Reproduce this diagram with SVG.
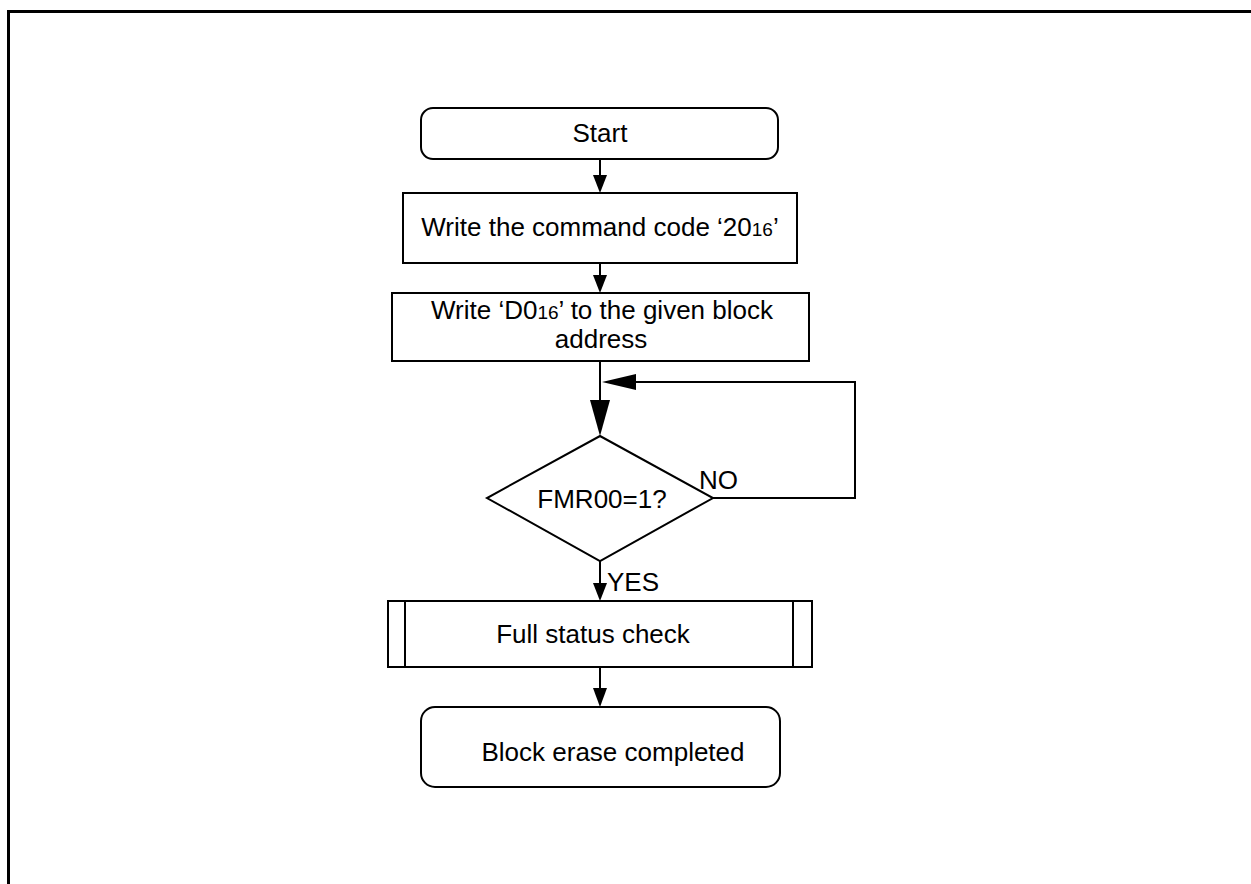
<svg xmlns="http://www.w3.org/2000/svg" width="1251" height="884" viewBox="0 0 1251 884">
<style>
.s{fill:#fff;stroke:#000;stroke-width:2}
.t{font-family:"Liberation Sans",Arial,sans-serif;font-size:26px;fill:#000;text-anchor:middle}
.l{font-family:"Liberation Sans",Arial,sans-serif;font-size:26px;fill:#000}
.c{fill:none;stroke:#000;stroke-width:2}
.sub{font-size:19px}
</style>
<rect x="0" y="0" width="1251" height="884" fill="#fff"/>
<rect x="8.5" y="11.5" width="1260" height="900" fill="none" stroke="#000" stroke-width="3"/>
<g id="start"><rect class="s" x="421" y="108" width="357" height="51" rx="12"/><text class="t" x="600" y="142">Start</text></g>
<g id="cmd"><rect class="s" x="403" y="193" width="394" height="70"/><text class="t" x="600" y="236">Write the command code ‘20<tspan class="sub">16</tspan>’</text></g>
<g id="addr"><rect class="s" x="392" y="293" width="417" height="68"/><text class="t" x="602" y="319">Write ‘D0<tspan class="sub">16</tspan>’ to the given block</text><text class="t" x="601" y="348">address</text></g>
<g id="dec"><polygon class="s" points="600,436 713,498 600,561 487,498"/><text class="t" x="602" y="508">FMR00=1?</text></g>
<g id="check"><rect class="s" x="388" y="601" width="424" height="66"/><line class="c" x1="405" y1="601" x2="405" y2="667"/><line class="c" x1="793" y1="601" x2="793" y2="667"/><text class="t" x="593" y="643">Full status check</text></g>
<g id="done"><rect class="s" x="421" y="707" width="359" height="80" rx="14"/><text class="t" x="613" y="761">Block erase completed</text></g>
<g id="connectors">
<line class="c" x1="600" y1="159" x2="600" y2="176"/><polygon points="593,175 607,175 600,193"/>
<line class="c" x1="600" y1="263" x2="600" y2="276"/><polygon points="593,275 607,275 600,293"/>
<line class="c" x1="600" y1="361" x2="600" y2="402"/><polygon points="590,400 610,400 600,436"/>
<polyline class="c" points="713,498 855,498 855,382 636,382"/><polygon points="636,374 636,390 602,382"/>
<line class="c" x1="600" y1="561" x2="600" y2="584"/><polygon points="593,583 607,583 600,601"/>
<line class="c" x1="600" y1="667" x2="600" y2="690"/><polygon points="593,688 607,688 600,707"/>
<text class="l" x="699" y="489">NO</text>
<text class="l" x="607" y="591">YES</text>
</g>
</svg>
